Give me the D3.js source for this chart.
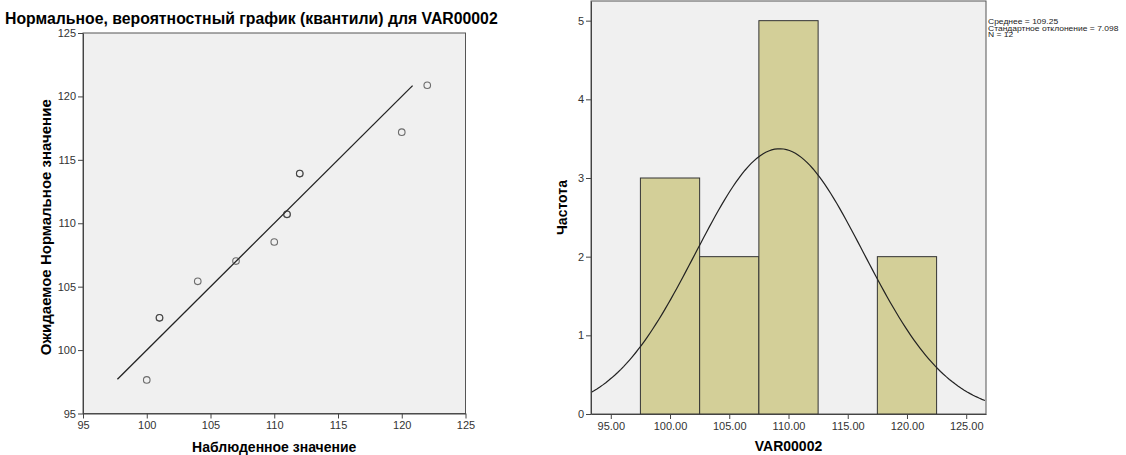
<!DOCTYPE html>
<html>
<head>
<meta charset="utf-8">
<script src="https://cdn.jsdelivr.net/npm/d3@7"></script>
<style>
  body { margin: 0; background: #fff; }
  svg { display: block; font-family: Arial, "Liberation Sans", sans-serif; }
  .tick text { fill: #333; font-size: 11px; }
  .tick line { stroke: #444; }
  .domain { stroke: #444; }
</style>
</head>
<body>
<svg id="chart" width="1126" height="455"></svg>
<script>
// Q-Q plot data (observed vs expected normal value), ties repeated
const observed = [100, 101, 101, 104, 107, 110, 111, 111, 112, 112, 120, 122];
const expected = [97.65, 102.54, 102.54, 105.42, 107.02, 108.52, 110.7, 110.7, 113.92, 113.92, 117.18, 120.88];
const refLine = [97.7, 120.85];
const qqTicks = [95, 100, 105, 110, 115, 120, 125];

// histogram
const binEdges = [97.5, 102.5, 107.5, 112.5, 117.5, 122.5];
const histTicksX = [95, 100, 105, 110, 115, 120, 125];
const histTicksY = [0, 1, 2, 3, 4, 5];
const stats = { mean: 109.25, sd: 7.098, n: 12 };
const legendLines = ['Среднее = 109.25', 'Стандартное отклонение = 7.098', 'N = 12'];

const svg = d3.select('#chart');

// ---------- left: normal Q-Q plot ----------
const qq = { left: 83, right: 465.5, top: 33, bottom: 413.5 };
const qx = d3.scaleLinear().domain([95, 125]).range([qq.left, qq.right]);
const qy = d3.scaleLinear().domain([95, 125]).range([qq.bottom, qq.top]);

svg.append('text')
  .attr('x', 5).attr('y', 24)
  .style('font-size', '15.8px').style('font-weight', 'bold')
  .text('Нормальное, вероятностный график (квантили) для VAR00002');

svg.append('rect')
  .attr('x', qq.left).attr('y', qq.top)
  .attr('width', qq.right - qq.left).attr('height', qq.bottom - qq.top)
  .attr('fill', '#f0f0f0').attr('stroke', '#555');

svg.append('g')
  .attr('transform', `translate(0,${qq.bottom})`)
  .call(d3.axisBottom(qx).tickValues(qqTicks).tickSize(5).tickSizeOuter(0).tickPadding(3));
svg.append('g')
  .attr('transform', `translate(${qq.left},0)`)
  .call(d3.axisLeft(qy).tickValues(qqTicks).tickSize(5).tickSizeOuter(0).tickPadding(2));

svg.append('line')
  .attr('x1', qx(refLine[0])).attr('y1', qy(refLine[0]))
  .attr('x2', qx(refLine[1])).attr('y2', qy(refLine[1]))
  .attr('stroke', '#222').attr('stroke-width', 1.3);

svg.append('g').selectAll('circle')
  .data(observed.map((d, i) => [d, expected[i]]))
  .join('circle')
  .attr('cx', d => qx(d[0])).attr('cy', d => qy(d[1]))
  .attr('r', 3.3)
  .attr('fill', 'none').attr('stroke', '#333').attr('stroke-opacity', 0.7).attr('stroke-width', 1.1);

svg.append('text')
  .attr('x', (qq.left + qq.right) / 2).attr('y', 452)
  .attr('text-anchor', 'middle')
  .style('font-size', '14px').style('font-weight', 'bold')
  .text('Наблюденное значение');
svg.append('text')
  .attr('transform', `translate(51,${(qq.top + qq.bottom) / 2 + 4}) rotate(-90)`)
  .attr('text-anchor', 'middle')
  .style('font-size', '15px').style('font-weight', 'bold')
  .text('Ожидаемое Нормальное значение');

// ---------- right: histogram ----------
const hp = { left: 591, right: 986, top: 1, bottom: 414 };
const hx = d3.scaleLinear().domain([93.33, 126.67]).range([hp.left, hp.right]);
const hy = d3.scaleLinear().domain([0, 5.25]).range([hp.bottom, hp.top]);

svg.append('rect')
  .attr('x', hp.left).attr('y', hp.top)
  .attr('width', hp.right - hp.left).attr('height', hp.bottom - hp.top)
  .attr('fill', '#f0f0f0').attr('stroke', '#555');

const bins = d3.bin()
  .domain([binEdges[0], binEdges[binEdges.length - 1]])
  .thresholds(binEdges.slice(1, -1))(observed);

svg.append('g').selectAll('rect')
  .data(bins.filter(b => b.length > 0))
  .join('rect')
  .attr('x', d => hx(d.x0)).attr('y', d => hy(d.length))
  .attr('width', d => hx(d.x1) - hx(d.x0)).attr('height', d => hy(0) - hy(d.length))
  .attr('fill', '#d3cf98').attr('stroke', '#333').attr('stroke-width', 1);

const normalPts = d3.range(hx.domain()[0], hx.domain()[1] + 0.01, 0.25).map(v => {
  const z = (v - stats.mean) / stats.sd;
  return [v, stats.n * 5 * Math.exp(-0.5 * z * z) / (stats.sd * Math.sqrt(2 * Math.PI))];
});
svg.append('path')
  .datum(normalPts)
  .attr('d', d3.line().x(d => hx(d[0])).y(d => hy(d[1])))
  .attr('fill', 'none').attr('stroke', '#222').attr('stroke-width', 1.2);

svg.append('g')
  .attr('transform', `translate(0,${hp.bottom})`)
  .call(d3.axisBottom(hx).tickValues(histTicksX).tickFormat(d3.format('.2f')).tickSize(5).tickSizeOuter(0).tickPadding(3));
svg.append('g')
  .attr('transform', `translate(${hp.left},0)`)
  .call(d3.axisLeft(hy).tickValues(histTicksY).tickFormat(d3.format('d')).tickSize(5).tickSizeOuter(0).tickPadding(2));

svg.append('text')
  .attr('x', (hp.left + hp.right) / 2).attr('y', 451)
  .attr('text-anchor', 'middle')
  .style('font-size', '14px').style('font-weight', 'bold')
  .text('VAR00002');
svg.append('text')
  .attr('transform', `translate(567,${(hp.top + hp.bottom) / 2}) rotate(-90)`)
  .attr('text-anchor', 'middle')
  .style('font-size', '14px').style('font-weight', 'bold')
  .text('Частота');

svg.append('g').selectAll('text')
  .data(legendLines)
  .join('text')
  .attr('x', 988).attr('y', (d, i) => 24 + i * 6.6)
  .attr('transform', 'translate(988,0) scale(1.12,1) translate(-988,0)')
  .style('font-size', '7.6px').attr('fill', '#222')
  .text(d => d);
</script>
</body>
</html>
